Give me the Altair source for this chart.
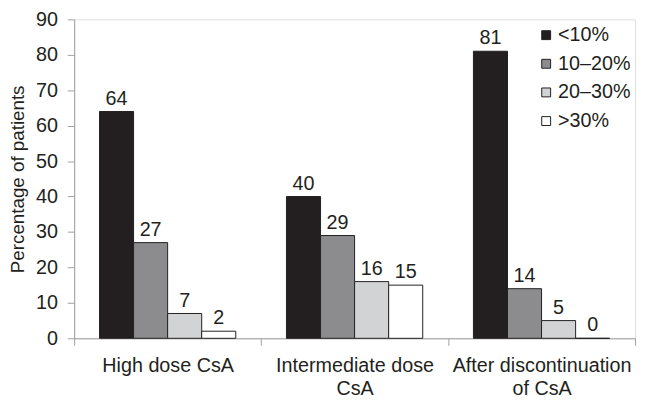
import altair as alt
import pandas as pd

groups = ["High dose CsA", "Intermediate dose CsA", "After discontinuation of CsA"]
series = ["<10%", "10–20%", "20–30%", ">30%"]
values = {
    "High dose CsA": [64, 27, 7, 2],
    "Intermediate dose CsA": [40, 29, 16, 15],
    "After discontinuation of CsA": [81, 14, 5, 0],
}
colors = ["#231f20", "#8c8c8e", "#d2d3d5", "#ffffff"]
y_ticks = [0, 10, 20, 30, 40, 50, 60, 70, 80, 90]

rows = []
for g in groups:
    for s, v in zip(series, values[g]):
        rows.append({"group": g, "series": s, "value": v})
df = pd.DataFrame(rows)

FONT = "Liberation Sans"
INK = "#231f20"
AXIS_GRAY = "#a0a0a0"

label_expr = (
    "datum.value == 'Intermediate dose CsA' ? ['Intermediate dose', 'CsA'] : "
    "datum.value == 'After discontinuation of CsA' ? ['After discontinuation', 'of CsA'] : datum.value"
)

x = alt.X(
    "group:N",
    sort=groups,
    scale=alt.Scale(paddingInner=0, paddingOuter=0),
    axis=alt.Axis(
        title=None,
        labelAngle=0,
        labelExpr=label_expr,
        labelFontSize=20,
        labelLineHeight=23,
        labelPadding=11,
        labelLimit=400,
        labelColor=INK,
        tickBand="extent",
        tickSize=7,
        tickColor=AXIS_GRAY,
        domainColor=AXIS_GRAY,
        labelFont=FONT,
    ),
)
xo = alt.XOffset(
    "series:N",
    sort=series,
    scale=alt.Scale(paddingInner=0, paddingOuter=0.744),
)
y = alt.Y(
    "value:Q",
    scale=alt.Scale(domain=[0, 90], nice=False),
    axis=alt.Axis(
        values=y_ticks,
        labelOverlap=False,
        title="Percentage of patients",
        titleFontSize=19,
        titleFontWeight="normal",
        titleColor=INK,
        titleFont=FONT,
        titlePadding=8,
        labelFontSize=20,
        labelColor=INK,
        labelFont=FONT,
        labelPadding=10,
        tickSize=7,
        tickColor=AXIS_GRAY,
        domainColor=AXIS_GRAY,
        grid=False,
    ),
)

bars = alt.Chart(df).mark_bar(stroke=INK, strokeWidth=1).encode(
    x=x,
    xOffset=xo,
    y=y,
    color=alt.Color(
        "series:N",
        sort=series,
        scale=alt.Scale(domain=series, range=colors),
        legend=alt.Legend(
            title=None,
            orient="none",
            legendX=468,
            legendY=6,
            padding=0,
            symbolType="square",
            symbolSize=81,
            symbolStrokeColor=INK,
            symbolStrokeWidth=1,
            symbolOpacity=1,
            labelFontSize=20,
            labelFont=FONT,
            labelColor=INK,
            labelOffset=2,
            rowPadding=9,
        ),
    ),
)

labels = alt.Chart(df).mark_text(
    baseline="bottom", dy=-3, fontSize=20, font=FONT, color=INK
).encode(
    x=x,
    xOffset=xo,
    y=y,
    text=alt.Text("value:Q"),
)

chart = (
    alt.layer(bars, labels)
    .properties(
        width=568,
        height=323,
        autosize=alt.AutoSizeParams(type="none"),
        padding={"left": 67, "top": 9, "right": 3, "bottom": 61},
    )
    .configure_view(strokeWidth=0, stroke="transparent")
    .configure(font=FONT)
)

chart.save("out.html", embed_options={"renderer": "svg", "actions": False})
